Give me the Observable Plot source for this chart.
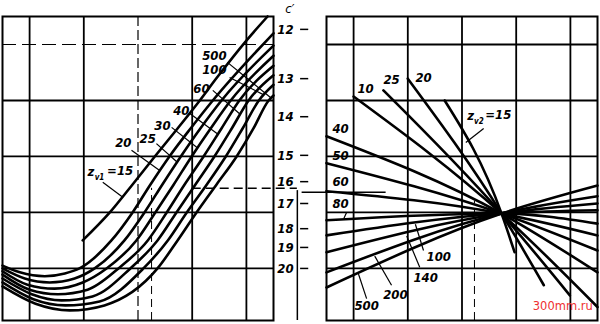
<!DOCTYPE html>
<html><head><meta charset="utf-8">
<script src="https://cdn.jsdelivr.net/npm/d3@7"></script>
<script src="https://cdn.jsdelivr.net/npm/@observablehq/plot@0.6"></script>
<style>
html,body{margin:0;padding:0;background:#fff;}
#chart{width:600px;height:324px;}
</style></head><body><div id="chart"></div>
<script>
// ---- Left panel: curves for z_v1 (x, y in grid divisions) ----
const leftZ = ["15","20","25","30","40","60","100","500"];
const L15  = [[0.98,0.5],[1.48,1],[1.9,1.5],[2.31,2],[2.73,2.5],[3.14,3],[3.45,3.4],[4.0,4.07],[4.39,4.5]];
const L20  = [[-0.5,0.05],[-0.18,-0.07],[0.28,-0.14],[0.65,-0.09],[0.92,0],[1.51,0.5],[1.9,1],[2.23,1.5],[2.58,2],[2.97,2.5],[3.38,3],[4.5,4.2]];
const L25  = [[-0.5,0],[-0.09,-0.18],[0.37,-0.25],[0.83,-0.18],[1.2,0],[1.75,0.5],[2.12,1],[2.45,1.5],[2.79,2],[3.15,2.5],[3.54,3],[4.5,3.98]];
const L30  = [[-0.5,-0.05],[-0.04,-0.29],[0.46,-0.36],[0.98,-0.25],[1.42,0],[1.97,0.5],[2.32,1],[2.66,1.5],[2.99,2],[3.34,2.5],[3.71,3],[4.5,3.8]];
const L40  = [[-0.5,-0.11],[0,-0.38],[0.52,-0.46],[1.07,-0.38],[1.64,0],[2.18,0.5],[2.53,1],[2.86,1.5],[3.21,2],[3.54,2.5],[3.87,3],[4.5,3.62]];
const L60  = [[-0.5,-0.18],[0.04,-0.46],[0.59,-0.57],[1.16,-0.5],[1.86,0],[2.36,0.5],[2.71,1],[3.06,1.5],[3.41,2],[3.73,2.5],[4.04,3],[4.5,3.45]];
const L100 = [[-0.5,-0.25],[0.07,-0.55],[0.66,-0.66],[1.29,-0.59],[2.10,0],[2.55,0.5],[2.90,1],[3.27,1.5],[3.62,2],[3.93,2.5],[4.23,3],[4.5,3.28]];
const L500 = [[-0.5,-0.32],[0.11,-0.63],[0.74,-0.75],[1.38,-0.66],[2.36,0],[2.73,0.5],[3.08,1],[3.45,1.5],[3.82,2],[4.13,2.5],[4.41,3],[4.5,3.09]];
const leftCurves = [L15, L20, L25, L30, L40, L60, L100, L500];

// ---- Right panel: lines for z_v2 ----
const rightZ = ["15","20","25","30","40","50","60","80","100","140","200","500"];
const R15  = [[1.68,3.0],[2.73,0.98],[2.97,0.29]];
const R20  = [[1.0,3.39],[2.73,0.98],[3.51,-0.30]];
const R25  = [[0.55,3.18],[2.73,0.98],[3.99,-0.48]];
const R30  = [[0,3.07],[2.73,0.98],[4.5,-0.69]];
const R40  = [[-0.5,2.36],[2.73,0.98],[4.5,-0.07]];
const R50  = [[-0.5,1.88],[2.73,0.98],[4.5,0.32]];
const R60  = [[-0.5,1.38],[2.73,0.98],[4.5,0.59]];
const R80  = [[-0.5,0.86],[2.73,0.98],[4.5,0.80]];
const R100 = [[-0.5,0.59],[2.73,0.98],[4.5,1.04]];
const R140 = [[-0.5,0.29],[2.73,0.98],[4.5,1.16]];
const R200 = [[-0.5,-0.07],[2.73,0.98],[4.5,1.29]];
const R500 = [[-0.5,-0.34],[2.73,0.98],[4.5,1.48]];
const rightCurves = [R15,R20,R25,R30,R40,R50,R60,R80,R100,R140,R200,R500];

// ---- c' scale between the panels ----
const cTicks = ["12","13","14","15","16","17","18","19","20"];
const cPos   = [4.27, 3.39, 2.71, 2.02, 1.55, 1.16, 0.71, 0.375, 0.0];

// ---- grid ----
const gridX = [0,1,2,3,4];
const gridY = [0,1,2,3,4];

// ---- labels ----
const leftLabelText = ["20","25","30","40","60","100","500"];
const leftLabelX    = [1.73, 2.18, 2.45, 2.80, 3.17, 3.41, 3.41];
const leftLabelY    = [2.25, 2.32, 2.55, 2.82, 3.21, 3.54, 3.80];
const leftLeaders = [
  [1.35,1.54,1.72,1.27],[1.88,2.11,2.40,1.75],[2.34,2.23,2.72,1.9],[2.62,2.52,3.10,2.15],
  [2.95,2.77,3.47,2.4],[3.38,3.18,3.89,2.75],[3.69,3.41,4.32,3.1],[3.65,3.68,4.45,3.05]];
const rightLabelText = ["10","25","20","40","50","60","80","100","140","200","500"];
const rightLabelX    = [0.22, 0.70, 1.29, -0.24, -0.24, -0.24, -0.24, 1.57, 1.33, 0.77, 0.24];
const rightLabelY    = [3.20, 3.36, 3.41, 2.50, 2.02, 1.54, 1.16, 0.21, -0.16, -0.48, -0.66];
const rightLeaders = [
  [2.40,2.5,2.07,2.25],[-0.13,1.0,-0.18,0.89],[1.29,0.32,1.14,0.79],
  [1.22,0.02,0.98,0.58],[0.70,-0.30,0.39,0.22],[0.24,-0.54,0.09,-0.10]];

// build tables
const curveRows = [];
leftCurves.forEach((c,i) => c.forEach(([x,y]) => curveRows.push({panel:"L", z:"L"+leftZ[i], x, y})));
rightCurves.forEach((c,i) => c.forEach(([x,y]) => curveRows.push({panel:"R", z:"R"+rightZ[i], x, y})));
const labelRows = leftLabelText.map((t,i)=>({panel:"L", t, x:leftLabelX[i], y:leftLabelY[i]}))
  .concat(rightLabelText.map((t,i)=>({panel:"R", t, x:rightLabelX[i], y:rightLabelY[i]})));
const leaderRows = leftLeaders.map(d=>({panel:"L", x1:d[0], y1:d[1], x2:d[2], y2:d[3]}))
  .concat(rightLeaders.map(d=>({panel:"R", x1:d[0], y1:d[1], x2:d[2], y2:d[3]})));
const cRows = cTicks.map((t,i)=>({panel:"L", t, y:cPos[i]}));

const font = "DejaVu Sans Condensed, DejaVu Sans, sans-serif";
const txt = {fontFamily: font, fontWeight: "bold", fontStyle: "italic", fontSize: 13, fill: "#000"};
const L = () => "L", R = () => "R";

const chart = Plot.plot({
  width: 600, height: 324,
  marginTop: 16, marginBottom: 4, marginLeft: 2, marginRight: 3,
  fx: {domain: ["L","R"], paddingInner: 53/324, paddingOuter: 0, axis: null, label: null},
  x: {domain: [-0.5, 4.5], axis: null},
  y: {domain: [-0.93, 4.5], axis: null},
  style: {background: "#fff", overflow: "visible"},
  marks: [
    // grid
    Plot.ruleX(gridX.filter(d => d !== 2), {x: d => d, fx: L, stroke: "#000", strokeWidth: 1.8}),
    Plot.ruleX([2], {x: d => d, fx: L, stroke: "#000", strokeWidth: 1.2, strokeDasharray: "10,4"}),
    Plot.ruleX([2.25], {x: d => d, y1: -0.93, y2: 1.43, fx: L, stroke: "#000", strokeWidth: 1, strokeDasharray: "8,5"}),
    Plot.ruleX(gridX, {x: d => d, fx: R, stroke: "#000", strokeWidth: 1.8}),
    Plot.ruleX([2.23], {x: d => d, y1: -0.93, y2: 1.2, fx: R, stroke: "#000", strokeWidth: 1, strokeDasharray: "8,5"}),
    Plot.ruleY(gridY.filter(d => d !== 4), {y: d => d, fx: L, stroke: "#000", strokeWidth: 1.8}),
    Plot.ruleY([4], {y: d => d, fx: L, stroke: "#000", strokeWidth: 1.2, strokeDasharray: "14,6"}),
    Plot.ruleY(gridY, {y: d => d, fx: R, stroke: "#000", strokeWidth: 1.8}),
    Plot.frame({stroke: "#000", strokeWidth: 2}),
    // c' key line (16)
    Plot.ruleY([1.43], {y: d => d, x1: 3.0, x2: 4.94, fx: L, stroke: "#000", strokeWidth: 1.5, strokeDasharray: "9,5"}),
    Plot.ruleY([1.36], {y: d => d, x1: -0.95, x2: 0.6, fx: R, stroke: "#000", strokeWidth: 1.5}),
    // c' axis
    Plot.ruleX([4.94], {x: d => d, y1: -0.93, y2: 1.39, fx: L, stroke: "#000", strokeWidth: 1.5}),
    Plot.ruleY(cRows, {y: "y", x1: 5.0, x2: 5.15, fx: "panel", stroke: "#000", strokeWidth: 1.5}),
    Plot.text(cRows, {y: "y", x: 4.72, text: "t", fx: "panel", ...txt}),
    Plot.text(["c′"], {x: 4.8, y: 4.64, text: d => d, fx: L, ...txt, fontWeight: "normal", fontSize: 13}),
    // curves
    Plot.line(curveRows, {x: "x", y: "y", z: "z", fx: "panel", curve: "monotone-x", stroke: "#000", strokeWidth: 2.6}),
    // leaders & labels
    Plot.link(leaderRows, {x1: "x1", y1: "y1", x2: "x2", y2: "y2", fx: "panel", stroke: "#000", strokeWidth: 1.2}),
    Plot.text(labelRows, {x: "x", y: "y", text: "t", fx: "panel", ...txt}),
    // z_v1 = 15
    Plot.text(["z"], {x: 1.13, y: 1.73, text: d => d, fx: L, ...txt}),
    Plot.text(["v1"], {x: 1.29, y: 1.63, text: d => d, fx: L, ...txt, fontSize: 8}),
    Plot.text(["=15"], {x: 1.67, y: 1.75, text: d => d, fx: L, ...txt}),
    // z_v2 = 15
    Plot.text(["z"], {x: 2.16, y: 2.73, text: d => d, fx: R, ...txt}),
    Plot.text(["v2"], {x: 2.31, y: 2.63, text: d => d, fx: R, ...txt, fontSize: 8}),
    Plot.text(["=15"], {x: 2.67, y: 2.75, text: d => d, fx: R, ...txt}),
    // watermark
    Plot.text(["300mm.ru"], {x: 3.86, y: -0.68, text: d => d, fx: R, fill: "#ee3030", fontSize: 11.5, fontFamily: "DejaVu Sans, sans-serif"})
  ]
});
document.getElementById("chart").appendChild(chart);
</script>
</body></html>
